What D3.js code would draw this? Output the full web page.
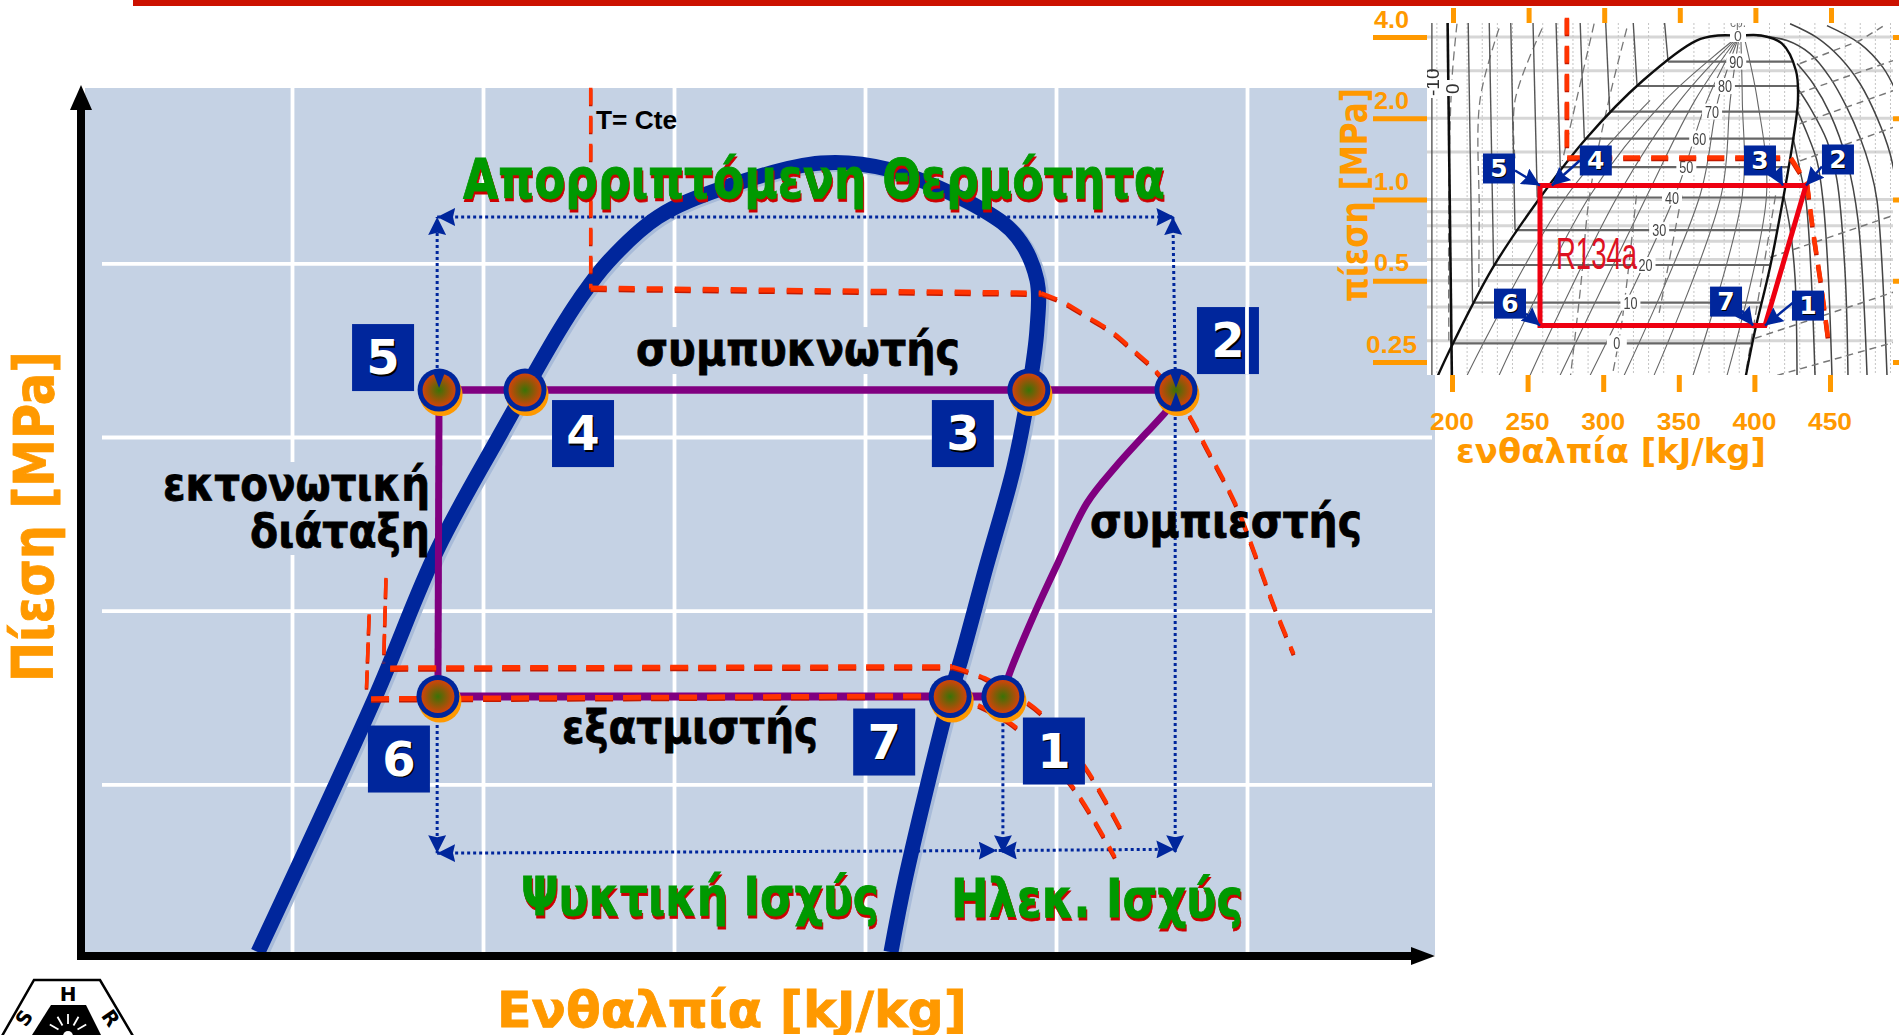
<!DOCTYPE html>
<html>
<head>
<meta charset="utf-8">
<style>
	html, body { margin: 0; padding: 0; background: #fff; overflow: hidden; }
	svg { display: block; }
	text { font-family: 'DejaVu Sans', sans-serif; font-weight: bold; }
	.arial { font-family: 'Liberation Sans', sans-serif; }
</style>
<script src="https://cdn.jsdelivr.net/npm/d3@7"></script>
</head>
<body>
<div id="chart"></div>
<script>
// main schematic: dome, cycle and isotherms as [enthalpy, pressure]
var mainDome = [[191.1,0.128],[221.7,0.353],[238,0.637],[254.7,1.016],[269.6,1.515],[275.1,1.728],
	[282.7,2.01],[295.8,2.406],[312.8,2.7],[338.5,2.984],[356,2.91],[380.9,2.474],[389.8,2.222],
	[395,1.871],[395,1.533],[392.9,1.206],[389,0.887],[381.7,0.595],[375.1,0.411],[372.3,0.357],
	[360.7,0.173],[356.8,0.128]];
var mainPoints = [['1',386.1,0.355],['2',431.4,1.206],['3',392.9,1.206],['4',261,1.206],
	['5',238.5,1.206],['6',238.2,0.355],['7',372.3,0.355]];
var mainCondenser = [[238.5,1.206],[431.4,1.206]];
var mainEvaporator = [[238.2,0.355],[386.1,0.355]];
var mainExpansion = [[238.5,1.206],[238.2,0.355]];
var mainCompressor = [[386.1,0.355],[387.7,0.387],[394,0.488],[400.5,0.605],[408.1,0.768],[416,0.894],
	[429.1,1.113],[431.4,1.164]];

var isoHighLiquid = [[278.2,4.03],[278.2,1.812]];
var isoHighFlat = [[278.2,1.812],[396.1,1.776]];
var isoHighVapor = [[396.1,1.776],[402.4,1.707],[408.4,1.614],[414.7,1.52],[420.2,1.415],[425.9,1.307],
	[433.5,1.127],[440.1,0.938],[446.9,0.768],[452.4,0.619],[457.2,0.507],[462.2,0.421]];
var isoMidLiquid = [[224.6,0.57],[224,0.407]];
var isoMidFlat = [[225.7,0.398],[372.8,0.4]];
var isoMidVapor = [[372.8,0.4],[381.4,0.382],[396.1,0.332],[407.6,0.268],[416.8,0.21]];
var isoLowLiquid = [[220.2,0.493],[219.5,0.367]];
var isoLowFlat = [[220.7,0.352],[368.1,0.356]];
var isoLowVapor = [[379.6,0.343],[388.7,0.317],[403.7,0.251],[415.4,0.187]];

var heatRange = [[238,2.406],[431,2.406]];
var heatLeft = [[238,1.317],[238,2.406]];
var heatRight = [[431.2,1.307],[430.6,2.406]];
var dropRight = [[431.2,1.136],[431.2,0.19]];
var dropLeft = [[238,0.317],[238,0.19]];
var dropMiddle = [[386.1,0.319],[386.1,0.19]];
var coolingRange = [[238,0.19],[384.5,0.192]];
var powerRange = [[385,0.192],[431,0.193]];

var mainHGrid = [200,250,300,350,400,450];
var mainPGrid = [0.25,0.5,1,2];

// R134a inset chart
var insetHTicks = [200,250,300,350,400,450];
var insetPTicks = [0.25,0.5,1,2,4];
var insetPLabels = ['0.25','0.5','1.0','2.0','4.0'];
var insetCycle = [[258.2,1.127],[434.1,1.127],[407,0.341],[258.2,0.341]];
var insetPoints = [['1',407,0.341],['2',434.1,1.127],['3',418.9,1.127],['4',266,1.127],
	['5',258.2,1.127],['6',258.2,0.341],['7',399.1,0.341]];
var insetIsotherm = [[276,4.71],[276,1.43],[424,1.43],[434.8,1.146],[439,0.748],[444,0.489],[448.7,0.306]];
var insetDome = [[190.7,0.223],[200,0.288],[227.1,0.56],[256.9,0.992],[288.6,1.68],[326.3,2.76],
	[361.7,3.88],[375.9,4.05],[389.6,4.05],[404.4,4.05],[418.3,3.78],[427.5,3],[428.8,2.33],
	[425.5,1.65],[419.6,1.05],[410.3,0.56],[400.4,0.327],[394.4,0.223]];

var satTemps = [0,10,20,30,40,50,60,70,80,90];
var satPressure = [0.293,0.415,0.572,0.77,1.017,1.318,1.682,2.117,2.633,3.244];
var satLiquidH = [200,213.6,227.5,241.7,256.4,271.6,287.5,304.3,322.4,342.9];
var satVaporH = [398.6,404.3,409.8,414.8,419.4,423.4,426.6,428.8,429.1,425];
var satLabelH = [309,318,328,337,345.5,355,363.5,372,380.5,388];

var coldIsothermH = [186.7];
var insetPBands = [4,3,2,1.5,1,0.9,0.8,0.7,0.6,0.5,0.4,0.3,0.2];
var insetHDots = [190,210,220,230,240,260,270,280,290,310,320,330,340,360,370,380,390,410,420,430,440,460,470,480,490];

var vaporArcs = [
	[[419.6,1.02],[423.6,0.78],[426.9,0.51],[428.2,0.223]],
	[[425.5,1.7],[430.2,1.28],[434.1,0.99],[437.4,0.546],[440.1,0.223]],
	[[428.2,2.14],[434.8,1.76],[441.4,1.39],[445.4,0.99],[448.7,0.546],[451.3,0.223]],
	[[428.2,2.6],[436.8,2.19],[448,1.65],[454.6,1.18],[459.9,0.546],[461.9,0.223]],
	[[428.2,3.19],[438.8,2.69],[450,2.08],[461.2,1.39],[468.5,0.84],[474.5,0.223]],
	[[401.7,4.05],[421.6,3.88],[436.8,3.47],[450,2.83],[461.2,2.19],[469.8,1.7],[476.5,1.31],[481.1,0.99],[487.7,0.223]],
	[[423.6,4.48],[441.4,3.98],[456.6,3.36],[469.8,2.69],[481.1,2.01],[489.7,1.48],[495.6,0.99]],
	[[448,4.41],[469.8,3.78],[485.1,3.08],[494.3,2.47]]
];
var volumeLines = [
	[[400.4,0.306],[491.7,0.453]],
	[[410.3,0.61],[491.7,0.872]],
	[[430.2,1.91],[491.7,2.53]],
	[[430.2,3.19],[469.8,3.88],[487.7,4.48]],
	[[415,0.223],[491.7,0.295]],
	[[428.8,2.47],[491.7,3.27]],
	[[430.2,1.39],[491.7,1.85]]
];
var qualityLines = [
	[[203.3,4.48],[200,2.8],[198,1.2],[197.9,0.3]],
	[[231.1,4.3],[218.5,2.33],[218,0.9],[217.7,0.45]],
	[[259.6,4.3],[241.7,2.33],[241.7,1.4]],
	[[294,4.48],[273,1.39]],
	[[315.6,4.3],[303.7,2.33],[291,1.035],[285,0.47],[278.4,0.223]],
	[[322,1.035],[312,0.34],[306,0.223]],
	[[352,1.035],[337,0.38]],
	[[414,1.035],[394,0.223]]
];
var fanLines = [
	[[209.9,0.223],[276.1,1.035],[331,2.33]],
	[[231.1,0.223],[291.3,1.035],[340.9,2.33],[390,4.05]],
	[[251.6,0.223],[309.8,1.035],[350.8,2.33],[390,4.05]],
	[[271.4,0.223],[329,1.035],[360.7,2.33],[390,4.05]],
	[[291.3,0.223],[347.5,1.035],[368.7,2.33],[390,4.05]],
	[[313.8,0.223],[364,1.035],[375.9,2.33],[390,4.05]],
	[[333.6,0.223],[378,1.035],[384,2.33],[390,4.05]],
	[[359.4,0.223],[392,1.035],[392,2.33],[391,4.05]],
	[[381.9,0.223],[408,1.035],[402,2.33],[393,4.05]]
];

// layout
var BLUE = '#00269c', ORANGE = '#ff9900', GREEN = '#009900', PANEL = '#c5d2e4', RED = '#ff3300';
var mainBoxOffset = { 1:[20,21], 2:[21,-83], 3:[-97,10], 4:[27,10], 5:[-87,-66], 6:[-70,29], 7:[-97,12] };
var insetBoxOffset = { 1:[27,-35], 2:[16,-41], 3:[-39,-40], 4:[28,-40], 5:[-57,-32], 6:[-46,-37], 7:[-43,-39] };
var insetArrowStart = { 1:[28,-23], 2:[16,-19], 3:[-10,-18], 4:[28,-25], 5:[-25,-15], 6:[-14,-12], 7:[-11,-15] };

var svg = d3.select('#chart').append('svg').attr('width', 1899).attr('height', 1035);
var defs = svg.append('defs');

var mainX = d3.scaleLinear().domain([200, 450]).range([292, 1247]);
var mainY = d3.scaleLog().base(2).domain([0.25, 2]).range([784.4, 263.3]);
var insetX = d3.scaleLinear().domain([200, 450]).range([1452, 1830]);
var insetY = d3.scaleLog().base(2).domain([0.25, 4]).range([362, 37]);

function lineOf (xs, ys, curve)	{
	return d3.line()
		.x(function (d) { return xs(d[0]); })
		.y(function (d) { return ys(d[1]); })
		.curve(curve || d3.curveLinear);
};
var mainLine = lineOf(mainX, mainY);
var mainCurve = lineOf(mainX, mainY, d3.curveCatmullRom);
var insetLine = lineOf(insetX, insetY);
var insetCurve = lineOf(insetX, insetY, d3.curveCatmullRom);

function addMarker (id, len, wide)	{
	defs.append('marker')
		.attr('id', id)
		.attr('markerUnits', 'userSpaceOnUse')
		.attr('markerWidth', len).attr('markerHeight', wide)
		.attr('refX', len).attr('refY', wide / 2)
		.attr('orient', 'auto-start-reverse')
		.append('path')
		.attr('d', 'M0,0L' + len + ',' + (wide / 2) + 'L0,' + wide + 'L' + (len * 0.12) + ',' + (wide / 2) + 'Z')
		.attr('fill', BLUE);
};
addMarker('dotHead', 18, 18);
addMarker('insetHead', 18, 18);

var grad = defs.append('radialGradient').attr('id', 'nodeFill');
grad.append('stop').attr('offset', '0%').attr('stop-color', '#3a7306');
grad.append('stop').attr('offset', '100%').attr('stop-color', '#d2430a');

defs.append('clipPath').attr('id', 'insetClip').append('rect')
	.attr('x', 1427).attr('y', 23).attr('width', 466).attr('height', 352);
defs.append('filter').attr('id', 'soft').append('feGaussianBlur').attr('stdDeviation', 0.45);

function label (parent, str, x, y, size, fill, length, rotate, heavy)	{
	var t = parent.append('text')
		.attr('x', x).attr('y', y)
		.attr('font-size', size)
		.attr('fill', fill)
		.text(str);
	if (length) t.attr('textLength', length).attr('lengthAdjust', 'spacingAndGlyphs');
	if (rotate) t.attr('transform', 'rotate(' + rotate + ' ' + x + ' ' + y + ')');
	if (heavy) t.attr('stroke', fill).attr('stroke-width', heavy);
	return t;
};

function shadowLabel (parent, str, x, y, size, length)	{
	label(parent, str, x + 1, y + 2.5, size, '#cc0000', length, 0, 0.8);
	label(parent, str, x, y, size, GREEN, length, 0, 0.8);
};

function path (parent, d, stroke, width, dash)	{
	var p = parent.append('path')
		.attr('d', d).attr('fill', 'none')
		.attr('stroke', stroke).attr('stroke-width', width);
	if (dash) p.attr('stroke-dasharray', dash);
	return p;
};

function redDash (parent, d, width, dash)	{
	path(parent, d, '#c41a00', width, dash).attr('transform', 'translate(0,1.5)');
	path(parent, d, RED, width, dash);
};

// top bar
svg.append('rect').attr('x', 133).attr('y', 0).attr('width', 1766).attr('height', 6).attr('fill', '#cc1100');

// main panel and grid
var main = svg.append('g');
main.append('rect').attr('x', 85).attr('y', 88).attr('width', 1350).attr('height', 867).attr('fill', PANEL);

var xGrid = main.append('g').attr('transform', 'translate(0,955)')
	.call(d3.axisBottom(mainX).tickValues(mainHGrid).tickSize(-867).tickFormat(''));
var yGrid = main.append('g').attr('transform', 'translate(102,0)')
	.call(d3.axisLeft(mainY).tickValues(mainPGrid).tickSize(-1330).tickFormat(''));
[xGrid, yGrid].forEach(function (g)	{
	g.select('.domain').remove();
	g.selectAll('line').attr('stroke', '#fff').attr('stroke-width', 3.8);
});

// text boxes in the slide hide the grid behind them
main.append('rect').attr('x', 636).attr('y', 327).attr('width', 323).attr('height', 47).attr('fill', PANEL);
main.append('rect').attr('x', 165).attr('y', 462).attr('width', 263).attr('height', 93).attr('fill', PANEL);

// saturation dome with its soft shadow
path(main, mainCurve(mainDome), '#a8bbd9', 15).attr('transform', 'translate(3,2)');
path(main, mainCurve(mainDome), BLUE, 15);

// cycle
path(main, mainLine(mainCondenser), '#800080', 7.5);
path(main, mainLine(mainExpansion), '#800080', 7);
path(main, mainLine(mainEvaporator), '#800080', 8);
path(main, mainCurve(mainCompressor), '#800080', 7);

// dotted ranges
[heatRange, coolingRange, powerRange].forEach(function (d)	{
	path(main, mainLine(d), BLUE, 3, '3 3')
		.attr('marker-start', 'url(#dotHead)').attr('marker-end', 'url(#dotHead)');
});
[heatLeft, heatRight, dropRight, dropLeft, dropMiddle].forEach(function (d)	{
	path(main, mainLine(d), BLUE, 3, '3 3').attr('marker-end', 'url(#dotHead)');
});

// isotherms
redDash(main, mainLine(isoHighLiquid), 3.5, '17 11');
redDash(main, mainLine(isoHighFlat), 5, '16 12');
redDash(main, mainCurve(isoHighVapor), 4, '17 11');
redDash(main, mainLine(isoMidLiquid), 3.5, '20 8');
redDash(main, mainLine(isoMidFlat), 5, '18 10');
redDash(main, mainCurve(isoMidVapor), 4, '17 11');
redDash(main, mainLine(isoLowLiquid), 3.5, '20 8');
redDash(main, mainLine(isoLowFlat), 5, '18 10');
redDash(main, mainCurve(isoLowVapor), 4, '17 11');

// axes arrows
main.append('path').attr('d', 'M81,958V100').attr('stroke', '#000').attr('stroke-width', 8);
main.append('path').attr('d', 'M77,956H1418').attr('stroke', '#000').attr('stroke-width', 8);
main.append('path').attr('d', 'M81,85L70,110H92Z').attr('fill', '#000');
main.append('path').attr('d', 'M1435,956L1411,947V965Z').attr('fill', '#000');

// nodes
mainPoints.forEach(function (d)	{
	var cx = mainX(d[1]), cy = mainY(d[2]);
	main.append('circle').attr('cx', cx + 2).attr('cy', cy + 4.5).attr('r', 21.5).attr('fill', ORANGE);
	main.append('circle').attr('cx', cx).attr('cy', cy).attr('r', 21.5).attr('fill', BLUE);
	main.append('circle').attr('cx', cx).attr('cy', cy).attr('r', 16.5).attr('fill', 'url(#nodeFill)');
});
[[238.5,1.206,1],[431.4,1.206,1],[431.4,1.206,-1]].forEach(function (d)	{
	var cx = mainX(d[0]), cy = mainY(d[1]);
	main.append('path')
		.attr('d', 'M' + cx + ',' + (cy - 2 * d[2]) + 'l-6,' + (-16 * d[2]) + 'h12Z')
		.attr('fill', BLUE);
});

// numbered boxes
mainPoints.forEach(function (d)	{
	var off = mainBoxOffset[d[0]];
	var bx = mainX(d[1]) + off[0], by = mainY(d[2]) + off[1];
	main.append('rect').attr('x', bx).attr('y', by).attr('width', 62).attr('height', 67).attr('fill', BLUE);
	label(main, d[0], bx + 32.5, by + 51.5, 48, '#000').attr('text-anchor', 'middle');
	label(main, d[0], bx + 31, by + 50, 48, '#fff').attr('text-anchor', 'middle');
});
main.append('path')
	.attr('d', 'M' + mainX(450) + ',307V374')
	.attr('stroke', '#fff').attr('stroke-width', 3.8);

// main labels
label(main, 'T= Cte', 596, 129, 26, '#000', 81).attr('class', 'arial');
shadowLabel(main, 'Απορριπτόμενη Θερμότητα', 463, 198, 55, 702);
shadowLabel(main, 'Ψυκτική Ισχύς', 521, 915, 53, 358);
shadowLabel(main, 'Ηλεκ. Ισχύς', 951, 917, 53, 292);
label(main, 'συμπυκνωτής', 636, 365, 46, '#000', 324, 0, 0.8);
label(main, 'εκτονωτική', 163, 500, 46, '#000', 267, 0, 0.8);
label(main, 'διάταξη', 250, 547, 46, '#000', 180, 0, 0.8);
label(main, 'συμπιεστής', 1090, 537, 46, '#000', 272, 0, 0.8);
label(main, 'εξατμιστής', 562, 743, 46, '#000', 256, 0, 0.8);
label(svg, 'Ενθαλπία [kJ/kg]', 497, 1027, 50, ORANGE, 470, 0, 0.8);
label(svg, 'Πίεση [MPa]', 53, 682, 56, ORANGE, 331, -90, 0.8);

// inset chart
var inset = svg.append('g');
inset.append('rect').attr('x', 1427).attr('y', 23).attr('width', 466).attr('height', 352).attr('fill', '#fff');
var sheet = inset.append('g').attr('clip-path', 'url(#insetClip)').append('g').attr('filter', 'url(#soft)');

insetPBands.forEach(function (p)	{
	path(sheet, 'M1427,' + insetY(p) + 'H1893', '#d6d6d6', 3);
});
insetHDots.forEach(function (h)	{
	path(sheet, 'M' + insetX(h) + ',23V375', '#c4c4c4', 1, '2 2');
});
fanLines.forEach(function (d)	{
	path(sheet, insetCurve(d), '#666', 1.1);
});
qualityLines.forEach(function (d)	{
	path(sheet, insetCurve(d), '#777', 1.3, '9 5');
});
// isotherms on the liquid side run nearly straight up from the dome
coldIsothermH.forEach(function (h)	{
	path(sheet, insetLine([[h, 5], [h, 0.2]]), '#555', 1.4);
});
satLiquidH.forEach(function (h, i)	{
	var bottom = i < 1 ? 0.2 : satPressure[i];
	path(sheet, insetLine([[h - 3, 5], [h, bottom]]), i < 1 ? '#111' : '#555', i < 1 ? 2.6 : 1.4);
});
vaporArcs.forEach(function (d)	{
	path(sheet, insetCurve(d), '#444', 1.5);
});
volumeLines.forEach(function (d)	{
	path(sheet, insetLine(d), '#777', 1.5, '7 5');
});
satTemps.forEach(function (t, i)	{
	path(sheet, insetLine([[satLiquidH[i], satPressure[i]], [satVaporH[i], satPressure[i]]]), '#666', 2.2);
});
path(sheet, insetCurve(insetDome), '#111', 2.4);
satTemps.forEach(function (t, i)	{
	var tx = insetX(satLabelH[i]), ty = insetY(satPressure[i]);
	sheet.append('rect').attr('x', tx - 10).attr('y', ty - 8).attr('width', 20).attr('height', 16).attr('fill', '#fff');
	label(sheet, t, tx, ty + 6, 16, '#444', t < 10 ? 7 : 14).attr('class', 'arial').style('font-weight', 'normal').attr('text-anchor', 'middle');
});
sheet.append('rect').attr('x', 1730).attr('y', 28).attr('width', 16).attr('height', 14).attr('fill', '#fff');
label(sheet, '0', 1738, 41, 14, '#555').attr('class', 'arial').style('font-weight', 'normal').attr('text-anchor', 'middle');
label(sheet, 'cp.', 1738, 27, 12, '#777').attr('class', 'arial').style('font-weight', 'normal').attr('text-anchor', 'middle');
sheet.append('rect').attr('x', 1426).attr('y', 72).attr('width', 14).attr('height', 26).attr('fill', '#fff');
sheet.append('rect').attr('x', 1446).attr('y', 80).attr('width', 14).attr('height', 16).attr('fill', '#fff');
label(sheet, '-10', 1439, 96, 19, '#333').attr('class', 'arial').style('font-weight', 'normal').attr('transform', 'rotate(-90 1439 96)');
label(sheet, '0', 1459, 94, 19, '#333').attr('class', 'arial').style('font-weight', 'normal').attr('transform', 'rotate(-90 1459 94)');

// inset axes
function styleAxis (g)	{
	g.select('.domain').remove();
	g.selectAll('line').attr('stroke', ORANGE).attr('stroke-width', 5);
	return g;
};
styleAxis(inset.append('g').attr('transform', 'translate(0,375)')
	.call(d3.axisBottom(insetX).tickValues(insetHTicks).tickSize(17).tickFormat('')));
styleAxis(inset.append('g').attr('transform', 'translate(1,23)')
	.call(d3.axisTop(insetX).tickValues(insetHTicks).tickSize(15).tickFormat('')));
styleAxis(inset.append('g').attr('transform', 'translate(1427,0)')
	.call(d3.axisLeft(insetY).tickValues(insetPTicks).tickSize(54).tickFormat('')));
styleAxis(inset.append('g').attr('transform', 'translate(1893,0)')
	.call(d3.axisRight(insetY).tickValues(insetPTicks).tickSize(6).tickFormat('')));

insetHTicks.forEach(function (h)	{
	label(inset, h, insetX(h), 430, 24, ORANGE, 44).attr('class', 'arial').attr('text-anchor', 'middle');
});
insetPTicks.forEach(function (p, i)	{
	var wide = insetPLabels[i].length > 3;
	label(inset, insetPLabels[i], wide ? 1366 : 1374, insetY(p) - 9.5, 24, ORANGE, wide ? 51 : 35).attr('class', 'arial');
});
label(inset, 'ενθαλπία [kJ/kg]', 1456, 463, 34, ORANGE, 310);
label(inset, 'πίεση [MPa]', 1367, 302, 38, ORANGE, 214, -90);

// inset cycle and marks
redDash(inset, insetLine(insetIsotherm), 4.5, '17 11');
path(inset, insetLine(insetCycle) + 'Z', '#ee0011', 5);
label(inset, 'R134a', 1556, 269, 44, '#dd1122', 81).attr('class', 'arial').style('font-weight', 'normal');

insetPoints.forEach(function (d)	{
	var off = insetBoxOffset[d[0]], start = insetArrowStart[d[0]];
	var px = insetX(d[1]), py = insetY(d[2]);
	inset.append('line')
		.attr('x1', px + start[0]).attr('y1', py + start[1])
		.attr('x2', px).attr('y2', py)
		.attr('stroke', BLUE).attr('stroke-width', 2.5)
		.attr('marker-end', 'url(#insetHead)');
	inset.append('rect')
		.attr('x', px + off[0]).attr('y', py + off[1])
		.attr('width', 32).attr('height', 30).attr('fill', BLUE);
	label(inset, d[0], px + off[0] + 17, py + off[1] + 24.5, 25, '#000').attr('text-anchor', 'middle');
	label(inset, d[0], px + off[0] + 16, py + off[1] + 23.5, 25, '#fff').attr('text-anchor', 'middle');
});

// society logo in the corner
var logo = svg.append('g');
logo.append('path').attr('d', 'M2,1036L34,980H100L133,1036').attr('fill', 'none').attr('stroke', '#000').attr('stroke-width', 2.5);
logo.append('path').attr('d', 'M51,1005H86L101,1035H32Z').attr('fill', '#000');
label(logo, 'H', 68, 1001, 20, '#000').attr('text-anchor', 'middle');
label(logo, 'S', 30, 1022, 20, '#000').attr('text-anchor', 'middle').attr('transform', 'rotate(-55 30 1022)');
label(logo, 'R', 105, 1022, 20, '#000').attr('text-anchor', 'middle').attr('transform', 'rotate(55 105 1022)');
logo.selectAll('.ray').data([-60, -30, 0, 30, 60]).enter().append('line')
	.attr('x1', 68).attr('y1', 1024).attr('x2', 68).attr('y2', 1014)
	.attr('transform', function (d) { return 'rotate(' + d + ' 68 1035)'; })
	.attr('stroke', '#fff').attr('stroke-width', 1.8);
logo.append('circle').attr('cx', 68).attr('cy', 1036).attr('r', 5).attr('fill', '#fff');
</script>
</body>
</html>
